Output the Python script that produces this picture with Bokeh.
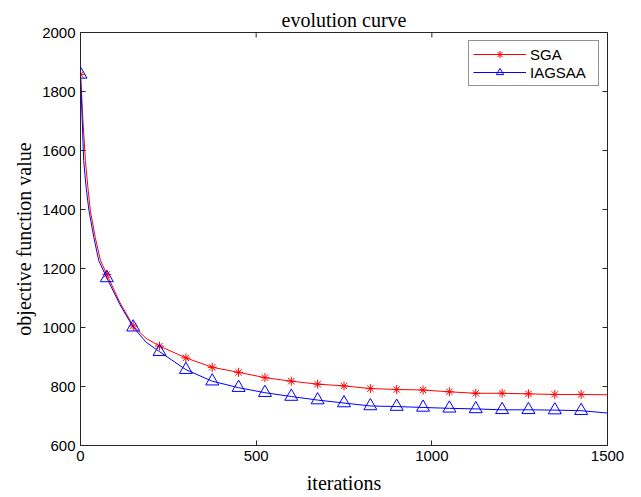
import math
from bokeh.plotting import figure
from bokeh.models import Legend, LegendItem, Range1d, FixedTicker, Title
from bokeh.embed import file_html
from bokeh.resources import INLINE

# ---- data ----
marker_iters = [0, 75, 150, 225, 300, 375, 450, 525, 600, 675, 750,
                825, 900, 975, 1050, 1125, 1200, 1275, 1350, 1425]
sga_markers = [1858, 1180, 1005, 937, 897, 865, 848, 830, 818, 808, 802,
               793, 790, 788, 782, 777, 777, 775, 773, 773]
iag_markers = [1858, 1168, 1001, 918, 857, 818, 796, 779, 766, 754, 744,
               734, 732, 729, 726, 724, 721, 721, 720, 718]

# extra samples of the continuous curves (between markers)
sga_extra_iters = [7, 14, 21, 28, 42, 57, 112, 187, 1500]
sga_extra_vals = [1700, 1566, 1475, 1397, 1305, 1227, 1085, 963, 772]
iag_extra_iters = [5, 9, 16, 24, 38, 52, 112, 187, 1500]
iag_extra_vals = [1700, 1566, 1475, 1397, 1305, 1227, 1078, 950, 710]

x_ticks = [0, 500, 1000, 1500]
y_ticks = [600, 800, 1000, 1200, 1400, 1600, 1800, 2000]
x_min, x_max = 0, 1500
y_min, y_max = 600, 2000


def merged(it_a, v_a, it_b, v_b):
    pts = sorted(zip(list(it_a) + list(it_b), list(v_a) + list(v_b)))
    return [q[0] for q in pts], [q[1] for q in pts]


sga_line_x, sga_line_y = merged(marker_iters, sga_markers, sga_extra_iters, sga_extra_vals)
iag_line_x, iag_line_y = merged(marker_iters, iag_markers, iag_extra_iters, iag_extra_vals)

TICK_FONT = "Liberation Sans"
SERIF = "Liberation Serif"
AX_COLOR = "#262626"

p = figure(frame_width=527, frame_height=413,
           x_range=Range1d(x_min, x_max), y_range=Range1d(y_min, y_max),
           output_backend="svg", toolbar_location=None,
           min_border_left=80, min_border_right=26,
           min_border_top=32, min_border_bottom=50,
           background_fill_color="white", border_fill_color="white")

p.title = Title(text="evolution curve", align="center",
                text_font=SERIF, text_font_size="20px",
                text_font_style="normal", text_color="black",
                vertical_align="top", standoff=0)

p.xgrid.visible = False
p.ygrid.visible = False
p.outline_line_color = AX_COLOR
p.outline_line_width = 1

for ax, ticks in ((p.xaxis[0], x_ticks), (p.yaxis[0], y_ticks)):
    ax.ticker = FixedTicker(ticks=ticks)
    ax.major_tick_in = 5
    ax.major_tick_out = 0
    ax.minor_tick_line_color = None
    ax.axis_line_color = AX_COLOR
    ax.major_tick_line_color = AX_COLOR
    ax.major_label_text_font = TICK_FONT
    ax.major_label_text_color = "black"
    ax.major_label_text_font_size = "15px"
    ax.major_label_standoff = 5
    ax.axis_label_text_font = SERIF
    ax.axis_label_text_font_size = "20px"
    ax.axis_label_text_font_style = "normal"
    ax.axis_label_text_color = "black"
p.xaxis[0].axis_label = "iterations"
p.yaxis[0].axis_label = "objective function value"
p.xaxis[0].axis_label_standoff = 8
p.yaxis[0].axis_label_standoff = 4

# inward tick marks on the top and right edges of the box (clipped to the frame)
p.scatter(x_ticks, [y_max] * len(x_ticks), marker="dash", size=10,
          angle=math.pi / 2, line_color=AX_COLOR, line_width=1)
p.scatter([x_max] * len(y_ticks), y_ticks, marker="dash", size=10,
          line_color=AX_COLOR, line_width=1)

sga_line = p.line(sga_line_x, sga_line_y, line_color="#ff0000", line_width=1)
sga_pts = p.scatter(marker_iters, sga_markers, marker="asterisk", size=9,
                    line_color="#ff0000", line_width=1)
iag_line = p.line(iag_line_x, iag_line_y, line_color="#0000ff", line_width=1)
iag_pts = p.scatter(marker_iters, iag_markers, marker="triangle", size=13,
                    line_color="#0000ff", fill_color=None, line_width=1)

legend = Legend(items=[LegendItem(label="SGA", renderers=[sga_line, sga_pts]),
                       LegendItem(label="IAGSAA", renderers=[iag_line, iag_pts])],
                location="top_right")
legend.margin = 8
legend.padding = 4
legend.spacing = 0
legend.glyph_width = 53
legend.glyph_height = 18
legend.label_height = 18
legend.label_width = 64
legend.label_standoff = 4
legend.label_text_font = TICK_FONT
legend.label_text_font_size = "15px"
legend.label_text_color = "black"
legend.border_line_color = AX_COLOR
legend.border_line_width = 1
legend.background_fill_color = "white"
legend.background_fill_alpha = 1
p.add_layout(legend, "center")

open("out.html", "w").write(file_html(p, INLINE))
